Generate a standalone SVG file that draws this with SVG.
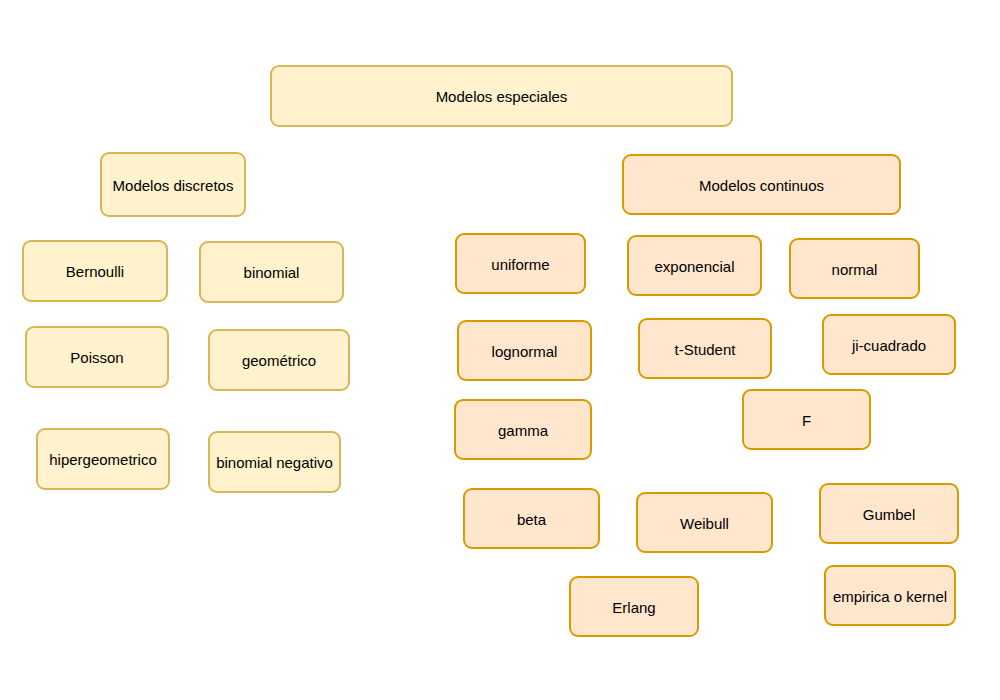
<svg xmlns="http://www.w3.org/2000/svg" width="1000" height="700" viewBox="0 0 1000 700">
<style>
rect{stroke-width:2}
.y rect{fill:#fff2cc;stroke:#d6b656}
.o rect{fill:#ffe6cc;stroke:#d79b00}
text{font-family:"Liberation Sans",Arial,sans-serif;font-size:15px;fill:#000;text-anchor:middle;dominant-baseline:central}
</style>
<rect width="1000" height="700" fill="#fff"/>
<g id="n-especiales" class="y"><rect x="271" y="66" width="461" height="60" rx="8"/><text x="501.5" y="96">Modelos especiales</text></g>
<g id="n-discretos" class="y"><rect x="101" y="153" width="144" height="63" rx="8"/><text x="173" y="185">Modelos discretos</text></g>
<g id="n-continuos" class="o"><rect x="623" y="155" width="277" height="59" rx="8"/><text x="761.5" y="185">Modelos continuos</text></g>
<g id="n-bernoulli" class="y"><rect x="23" y="241" width="144" height="60" rx="8"/><text x="95" y="271">Bernoulli</text></g>
<g id="n-binomial" class="y"><rect x="200" y="242" width="143" height="60" rx="8"/><text x="271.5" y="272">binomial</text></g>
<g id="n-poisson" class="y"><rect x="26" y="327" width="142" height="60" rx="8"/><text x="97" y="357">Poisson</text></g>
<g id="n-geometrico" class="y"><rect x="209" y="330" width="140" height="60" rx="8"/><text x="279" y="360">geométrico</text></g>
<g id="n-hiper" class="y"><rect x="37" y="429" width="132" height="60" rx="8"/><text x="103" y="459">hipergeometrico</text></g>
<g id="n-binneg" class="y"><rect x="209" y="432" width="131" height="60" rx="8"/><text x="274.5" y="462">binomial negativo</text></g>
<g id="n-uniforme" class="o"><rect x="456" y="234" width="129" height="59" rx="8"/><text x="520.5" y="264">uniforme</text></g>
<g id="n-exponencial" class="o"><rect x="628" y="236" width="133" height="59" rx="8"/><text x="694.5" y="266">exponencial</text></g>
<g id="n-normal" class="o"><rect x="790" y="239" width="129" height="59" rx="8"/><text x="854.5" y="269">normal</text></g>
<g id="n-lognormal" class="o"><rect x="458" y="321" width="133" height="59" rx="8"/><text x="524.5" y="351">lognormal</text></g>
<g id="n-tstudent" class="o"><rect x="639" y="319" width="132" height="59" rx="8"/><text x="705" y="349">t-Student</text></g>
<g id="n-ji" class="o"><rect x="823" y="315" width="132" height="59" rx="8"/><text x="889" y="345">ji-cuadrado</text></g>
<g id="n-gamma" class="o"><rect x="455" y="400" width="136" height="59" rx="8"/><text x="523" y="430">gamma</text></g>
<g id="n-f" class="o"><rect x="743" y="390" width="127" height="59" rx="8"/><text x="806.5" y="420">F</text></g>
<g id="n-beta" class="o"><rect x="464" y="489" width="135" height="59" rx="8"/><text x="531.5" y="519">beta</text></g>
<g id="n-weibull" class="o"><rect x="637" y="493" width="135" height="59" rx="8"/><text x="704.5" y="523">Weibull</text></g>
<g id="n-gumbel" class="o"><rect x="820" y="484" width="138" height="59" rx="8"/><text x="889" y="514">Gumbel</text></g>
<g id="n-erlang" class="o"><rect x="570" y="577" width="128" height="59" rx="8"/><text x="634" y="607">Erlang</text></g>
<g id="n-empirica" class="o"><rect x="825" y="566" width="130" height="59" rx="8"/><text x="890" y="596">empirica o kernel</text></g>
<g id="connectors"></g>
</svg>
